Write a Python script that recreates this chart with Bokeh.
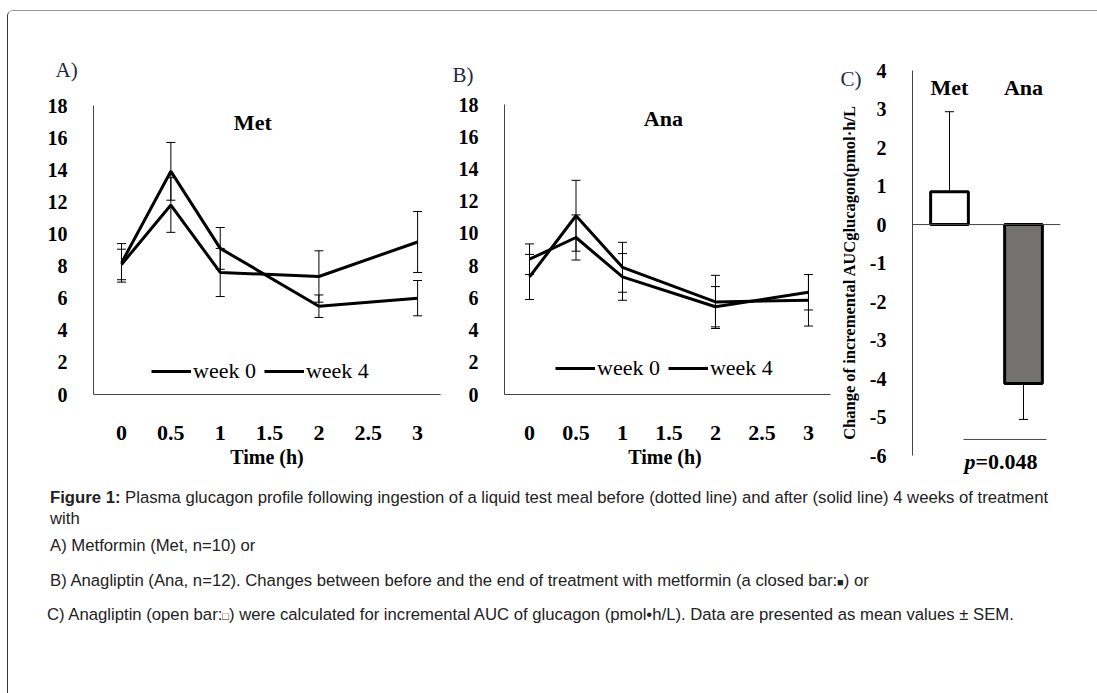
from bokeh.plotting import figure
from bokeh.models import (ColumnDataSource, Whisker, TeeHead, Label, Span, FixedTicker,
                          Legend, LegendItem, Div, FactorRange, Range1d)
from bokeh.layouts import row, column
from bokeh.core.properties import value
from bokeh.embed import file_html
from bokeh.resources import INLINE

# ---------------- data ----------------
time_h = [0, 0.5, 1, 2, 3]
met_week0 = [8.2, 13.9, 9.1, 5.5, 6.0]
met_week0_sem = [1.2, 1.8, 1.3, 0.7, 1.1]
met_week4 = [8.1, 11.8, 7.6, 7.35, 9.5]
met_week4_sem = [0.95, 1.7, 1.5, 1.6, 1.9]
ana_week0 = [7.3, 11.1, 7.9, 5.75, 5.85]
ana_week0_sem = [1.4, 2.2, 1.55, 1.65, 1.6]
ana_week4 = [8.4, 9.75, 7.3, 5.45, 6.35]
ana_week4_sem = [0.95, 1.4, 1.45, 1.25, 1.1]

x_ticks = [0, 0.5, 1, 1.5, 2, 2.5, 3]
x_tick_labels = ["0", "0.5", "1", "1.5", "2", "2.5", "3"]
y_ticks = [0, 2, 4, 6, 8, 10, 12, 14, 16, 18]
y_tick_labels = ["0", "2", "4", "6", "8", "10", "12", "14", "16", "18"]

groups = ["Met", "Ana"]
auc_change = [0.85, -4.13]
auc_sem = [2.08, 0.93]
bar_colors = ["white", "#767171"]
c_ticks = [-6, -5, -4, -3, -2, -1, 0, 1, 2, 3, 4]
c_tick_labels = ["-6", "-5", "-4", "-3", "-2", "-1", "0", "1", "2", "3", "4"]
p_value_text = "=0.048"

SERIF = "Liberation Serif"
AXIS_COL = "#444444"
LETTER_COL = "#1f2a44"
TOP = 59          # common top border so the three frames line up
FIG_H = 467


def time_panel(letter, name, w0, e0, w4, e4, xlabel, xr, y_top, frame_w, left, right,
               letter_off, name_xy, legend_loc):
    frame_h = 324
    p = figure(frame_width=frame_w, frame_height=frame_h, x_range=Range1d(*xr),
               y_range=Range1d(0, y_top), output_backend="svg", toolbar_location=None,
               min_border_top=TOP, min_border_left=left, min_border_right=right,
               min_border_bottom=FIG_H - TOP - frame_h)
    p.outline_line_color = None
    p.grid.visible = False

    p.title.text = letter
    p.title.align = "left"
    p.title.offset = letter_off[0]
    p.title.standoff = letter_off[1]
    p.title.text_font = SERIF
    p.title.text_font_style = "normal"
    p.title.text_font_size = "21px"
    p.title.text_color = LETTER_COL

    ax = p.xaxis[0]
    ax.ticker = FixedTicker(ticks=x_ticks)
    ax.major_label_overrides = {t: s for t, s in zip(x_ticks, x_tick_labels)}
    ax.axis_line_color = AXIS_COL
    ax.major_tick_line_color = None
    ax.minor_tick_line_color = None
    ax.major_label_standoff = 25
    ax.major_label_text_font = SERIF
    ax.major_label_text_font_style = "bold"
    ax.major_label_text_font_size = "22px"
    ax.major_label_text_color = "black"
    ax.axis_label = xlabel
    ax.axis_label_text_font = SERIF
    ax.axis_label_text_font_style = "bold"
    ax.axis_label_text_font_size = "20px"
    ax.axis_label_text_color = "black"
    ax.axis_label_standoff = 3

    ay = p.yaxis[0]
    ay.bounds = (y_ticks[0], y_ticks[-1])
    ay.ticker = FixedTicker(ticks=y_ticks)
    ay.major_label_overrides = {t: s for t, s in zip(y_ticks, y_tick_labels)}
    ay.axis_line_color = AXIS_COL
    ay.major_tick_line_color = None
    ay.minor_tick_line_color = None
    ay.major_label_standoff = 20
    ay.major_label_text_font = SERIF
    ay.major_label_text_font_style = "bold"
    ay.major_label_text_font_size = "20px"
    ay.major_label_text_color = "black"

    src0 = ColumnDataSource(dict(x=time_h, y=w0,
                                 lo=[a - b for a, b in zip(w0, e0)],
                                 hi=[a + b for a, b in zip(w0, e0)]))
    src4 = ColumnDataSource(dict(x=time_h, y=w4,
                                 lo=[a - b for a, b in zip(w4, e4)],
                                 hi=[a + b for a, b in zip(w4, e4)]))
    r0 = p.line("x", "y", source=src0, line_color="black", line_width=3)
    r4 = p.line("x", "y", source=src4, line_color="black", line_width=3)
    for s in (src0, src4):
        p.add_layout(Whisker(source=s, base="x", lower="lo", upper="hi",
                             line_color="black", line_width=1,
                             lower_head=TeeHead(size=9, line_color="black", line_width=1),
                             upper_head=TeeHead(size=9, line_color="black", line_width=1)))

    leg = Legend(items=[LegendItem(label="week 0", renderers=[r0]),
                        LegendItem(label="week 4", renderers=[r4])],
                 orientation="horizontal", location=legend_loc,
                 glyph_width=40, glyph_height=20, label_height=20, label_standoff=2,
                 spacing=8, padding=0, margin=0, border_line_color=None,
                 background_fill_alpha=0, label_text_font=SERIF,
                 label_text_font_size="22px", label_text_color="black")
    p.add_layout(leg)

    p.add_layout(Label(x=name_xy[0], y=name_xy[1], text=name, text_font=SERIF,
                       text_font_style="bold", text_font_size="22px",
                       text_align="center", text_baseline="middle", text_color="black"))
    return p


pA = time_panel("A)", "Met", met_week0, met_week0_sem, met_week4, met_week4_sem,
                "Time (h)", (-0.284, 3.232), 20.18, 347, 85, 8,
                (-38, -22), (1.33, 16.95), (58, 10))
pB = time_panel("B)", "Ana", ana_week0, ana_week0_sem, ana_week4, ana_week4_sem,
                "Time  (h)", (-0.269, 3.237), 20.12, 326, 56, 6,
                (-52, -32), (1.44, 17.15), (51, 13))

# ---------------- panel C ----------------
c_frame_h = 404
pC = figure(frame_width=148, frame_height=c_frame_h, x_range=FactorRange(*groups),
            y_range=Range1d(-6.49, 4), output_backend="svg", toolbar_location=None,
            min_border_top=TOP, min_border_left=76, min_border_right=25,
            min_border_bottom=FIG_H - TOP - c_frame_h)
pC.outline_line_color = None
pC.grid.visible = False
pC.xaxis.visible = False
pC.title.text = "C)"
pC.title.align = "left"
pC.title.offset = -72
pC.title.standoff = -40
pC.title.text_font = SERIF
pC.title.text_font_style = "normal"
pC.title.text_font_size = "21px"
pC.title.text_color = LETTER_COL

ayc = pC.yaxis[0]
ayc.bounds = (c_ticks[0], c_ticks[-1])
ayc.ticker = FixedTicker(ticks=c_ticks)
ayc.major_label_overrides = {t: s for t, s in zip(c_ticks, c_tick_labels)}
ayc.axis_line_color = AXIS_COL
ayc.major_tick_line_color = None
ayc.minor_tick_line_color = None
ayc.major_label_standoff = 20
ayc.major_label_text_font = SERIF
ayc.major_label_text_font_style = "bold"
ayc.major_label_text_font_size = "20px"
ayc.major_label_text_color = "black"
ayc.axis_label = "Change of incremental AUCglucagon(pmol\u00b7h/L"
ayc.axis_label_text_font = SERIF
ayc.axis_label_text_font_style = "bold"
ayc.axis_label_text_font_size = "16.5px"
ayc.axis_label_text_color = "black"
ayc.axis_label_standoff = 8

pC.add_layout(Span(location=0, dimension="width", line_color=AXIS_COL, line_width=1))
bsrc = ColumnDataSource(dict(x=groups, top=auc_change, color=bar_colors,
                             lo=[v if v > 0 else v - e for v, e in zip(auc_change, auc_sem)],
                             hi=[v + e if v > 0 else v for v, e in zip(auc_change, auc_sem)]))
pC.vbar(x="x", top="top", bottom=0, width=0.51, source=bsrc, fill_color="color",
        line_color="black", line_width=3)
pC.add_layout(Whisker(source=bsrc, base="x", lower="lo", upper="hi",
                      line_color="black", line_width=1,
                      lower_head=TeeHead(size=9, line_color="black", line_width=1),
                      upper_head=TeeHead(size=9, line_color="black", line_width=1)))
pC.text(x=groups, y=[3.56, 3.56], text=groups, text_font=value(SERIF),
        text_font_style="bold", text_font_size="22px", text_align="center",
        text_baseline="middle", text_color="black")
# significance line and p value
pC.segment(x0=[0.69], x1=[1.81], y0=[-5.58], y1=[-5.58], line_color=AXIS_COL, line_width=1)
pC.add_layout(Label(x=0.85, y=-6.16, text="p", text_font=SERIF, text_font_style="bold italic",
                    text_font_size="22px", text_align="right", text_baseline="middle",
                    text_color="black"))
pC.add_layout(Label(x=0.85, y=-6.16, text=p_value_text, text_font=SERIF, text_font_style="bold",
                    text_font_size="22px", text_align="left", text_baseline="middle",
                    text_color="black"))

# ---------------- caption ----------------
cap_html = """
<div style="font-family:'Liberation Sans',Arial,sans-serif;font-size:16.7px;color:#222;line-height:21px;padding-left:37px;padding-top:4px;white-space:nowrap;">
<div><b>Figure 1:</b> Plasma glucagon profile following ingestion of a liquid test meal before (dotted line) and after (solid line) 4 weeks of treatment<br>with</div>
<div style="margin-top:6px">A) Metformin (Met, n=10) or</div>
<div style="margin-top:14px">B) Anagliptin (Ana, n=12). Changes between before and the end of treatment with metformin (a closed bar:<span style="font-size:11px">&#9632;</span>) or</div>
<div style="margin-top:11px;margin-left:-3px">C) Anagliptin (open bar:<span style="font-size:11px">&#9633;</span>) were calculated for incremental AUC of glucagon (pmol&bull;h/L). Data are presented as mean values &plusmn; SEM.</div>
</div>
"""
cap = Div(text=cap_html, width=1088, height=205)

layout = column(row(pA, pB, pC), cap, margin=(10, 0, 0, 7),
                styles={"border-left": "1px solid #333333", "border-top": "1px solid #999999",
                        "border-top-left-radius": "6px"})

open("out.html", "w").write(file_html(layout, INLINE))
